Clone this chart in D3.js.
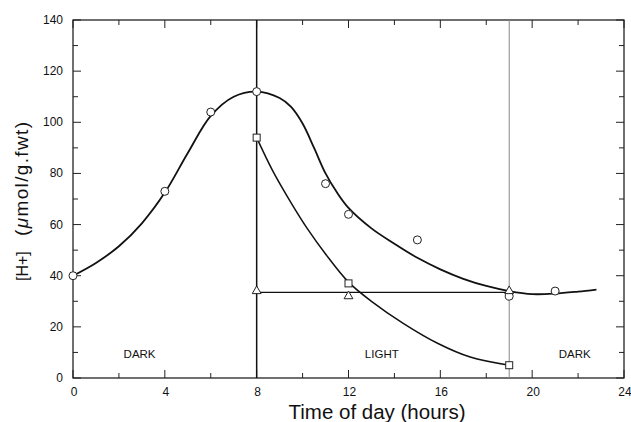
<!DOCTYPE html>
<html lang="en">
  <head>
    <meta charset="utf-8" />
    <title>[H+] over time of day</title>
    <script src="https://d3js.org/d3.v7.min.js"></script>
    <style type="text/css">
      body { margin: 0; background: #fff; }
      text { font-family: 'Liberation Sans', Arial, sans-serif; fill: #111; }
    </style>
  </head>
  <body>
    <script type="text/javascript">
      //Width and height
      const w = 631;
      const h = 422;
      const margin = { top: 20, right: 7, bottom: 44, left: 73 };

      // measured points
      const circleHours = [0, 4, 6, 8, 11, 12, 15, 19, 21];
      const circleValues = [40, 73, 104, 112, 76, 64, 54, 32, 34];
      const squareHours = [8, 12, 19];
      const squareValues = [94, 37, 5];
      const triangleHours = [8, 12, 19];
      const triangleValues = [34, 32, 34];

      // fitted curves
      const circleFitHours = [0, 1, 2, 3, 4, 5, 6, 7, 8, 9, 9.5, 10, 10.5, 11, 11.5, 12, 13, 14, 15, 16, 17, 18, 19, 20, 21, 22, 22.8];
      const circleFitValues = [40, 45, 51.5, 60.5, 72.5, 88, 102.5, 110, 112, 109.5, 106, 99.5, 90, 80, 72.5, 66.5, 58.5, 52.5, 47, 42.5, 38.8, 36, 34, 32.8, 33, 33.8, 34.6];
      const squareFitHours = [8, 8.7, 9.5, 10.2, 11, 12, 13, 14.4, 15.9, 17.3, 19];
      const squareFitValues = [94, 81, 68.5, 58.5, 48.5, 37.5, 30, 21.3, 13.5, 8.2, 5];
      const triangleFitHours = [8, 19];
      const triangleFitValues = [33.5, 33.5];

      // light / dark boundaries and labels
      const lightOn = 8;
      const lightOff = 19;
      const periodLabels = ['DARK', 'LIGHT', 'DARK'];
      const periodLabelHours = [2.9, 13.45, 21.85];
      const periodLabelValue = 8;

      const xTicks = [0, 4, 8, 12, 16, 20, 24];
      const yTicks = [0, 20, 40, 60, 80, 100, 120, 140];

      const xScale = d3.scaleLinear().domain([0, 24]).range([margin.left, w - margin.right]);
      const yScale = d3.scaleLinear().domain([0, 140]).range([h - margin.bottom, margin.top]);

      const x0 = xScale(0), x1 = xScale(24), y0 = yScale(0), y1 = yScale(140);

      //Create SVG element
      const svg = d3.select('body').append('svg').attr('width', w).attr('height', h);

      // frame
      svg.append('rect')
        .attr('x', x0).attr('y', y1)
        .attr('width', x1 - x0).attr('height', y0 - y1)
        .attr('fill', 'none').attr('stroke', '#111').attr('stroke-width', 1.2);

      // inward ticks on all four sides
      const majorLen = 8, minorLen = 5;
      const xMinor = d3.range(0, 25, 2);
      const yMinor = d3.range(0, 141, 10);
      const tickG = svg.append('g').attr('stroke', '#222').attr('stroke-width', 1);
      xMinor.forEach((t) => {
        const len = t % 4 === 0 ? majorLen : minorLen;
        tickG.append('line').attr('x1', xScale(t)).attr('x2', xScale(t)).attr('y1', y0).attr('y2', y0 - len);
        tickG.append('line').attr('x1', xScale(t)).attr('x2', xScale(t)).attr('y1', y1).attr('y2', y1 + len);
      });
      yMinor.forEach((t) => {
        const len = t % 20 === 0 ? majorLen : minorLen;
        tickG.append('line').attr('x1', x0).attr('x2', x0 + len).attr('y1', yScale(t)).attr('y2', yScale(t));
        tickG.append('line').attr('x1', x1).attr('x2', x1 - len).attr('y1', yScale(t)).attr('y2', yScale(t));
      });

      // tick labels
      svg.selectAll('text.xt')
        .data(xTicks)
        .enter()
        .append('text')
        .attr('class', 'xt')
        .text((d) => d)
        .attr('x', (d) => xScale(d) + 1)
        .attr('y', y0 + 18)
        .attr('text-anchor', 'middle')
        .attr('font-size', '12px');

      svg.selectAll('text.yt')
        .data(yTicks)
        .enter()
        .append('text')
        .attr('class', 'yt')
        .text((d) => d)
        .attr('x', x0 - 10)
        .attr('y', (d) => yScale(d) + 4)
        .attr('text-anchor', 'end')
        .attr('font-size', '12px');

      // axis titles
      svg.append('text')
        .text('Time of day (hours)')
        .attr('x', 377)
        .attr('y', 419)
        .attr('text-anchor', 'middle')
        .attr('font-size', '20.5px');

      const yTitle = svg.append('g').attr('transform', 'translate(28,0) rotate(-90)');
      yTitle.append('text')
        .text('[H+]')
        .attr('x', -281)
        .attr('y', 0)
        .attr('font-size', '16px');
      const unit = yTitle.append('text')
        .attr('x', -122)
        .attr('y', 0)
        .attr('text-anchor', 'end')
        .attr('font-size', '19px')
        .attr('textLength', 114)
        .attr('lengthAdjust', 'spacing');
      unit.append('tspan').text('(');
      unit.append('tspan').text('\u03bc').attr('font-style', 'italic');
      unit.append('tspan').text('mol/g.fwt)');

      // light on / off lines
      svg.append('line')
        .attr('x1', xScale(lightOn)).attr('x2', xScale(lightOn))
        .attr('y1', y1).attr('y2', y0)
        .attr('stroke', '#111').attr('stroke-width', 1.5);
      svg.append('line')
        .attr('x1', xScale(lightOff)).attr('x2', xScale(lightOff))
        .attr('y1', y1).attr('y2', y0)
        .attr('stroke', '#888').attr('stroke-width', 1);

      // period labels
      svg.selectAll('text.period')
        .data(periodLabels)
        .enter()
        .append('text')
        .attr('class', 'period')
        .text((d) => d)
        .attr('x', (d, i) => xScale(periodLabelHours[i]))
        .attr('y', yScale(periodLabelValue))
        .attr('text-anchor', 'middle')
        .attr('font-size', '11.5px');

      // fitted curves
      const line = d3.line()
        .x((d) => xScale(d[0]))
        .y((d) => yScale(d[1]))
        .curve(d3.curveCatmullRom.alpha(0.5));

      const fits = [
        [circleFitHours, circleFitValues, 1.8],
        [squareFitHours, squareFitValues, 1.5],
        [triangleFitHours, triangleFitValues, 1.3],
      ];
      fits.forEach(([hs, vs, sw]) => {
        svg.append('path')
          .datum(d3.zip(hs, vs))
          .attr('d', line)
          .attr('fill', 'none')
          .attr('stroke', '#111')
          .attr('stroke-width', sw);
      });

      // markers
      const markerG = svg.append('g').attr('fill', '#fff').attr('stroke', '#222').attr('stroke-width', 1);
      markerG.selectAll('circle')
        .data(d3.zip(circleHours, circleValues))
        .enter()
        .append('circle')
        .attr('cx', (d) => xScale(d[0]))
        .attr('cy', (d) => yScale(d[1]))
        .attr('r', 4);
      markerG.selectAll('rect')
        .data(d3.zip(squareHours, squareValues))
        .enter()
        .append('rect')
        .attr('x', (d) => xScale(d[0]) - 3.5)
        .attr('y', (d) => yScale(d[1]) - 3.5)
        .attr('width', 7)
        .attr('height', 7);
      const tri = d3.symbol().type(d3.symbolTriangle).size(34);
      markerG.selectAll('path')
        .data(d3.zip(triangleHours, triangleValues))
        .enter()
        .append('path')
        .attr('d', tri)
        .attr('transform', (d) => `translate(${xScale(d[0])},${yScale(d[1])})`);
    </script>
  </body>
</html>
